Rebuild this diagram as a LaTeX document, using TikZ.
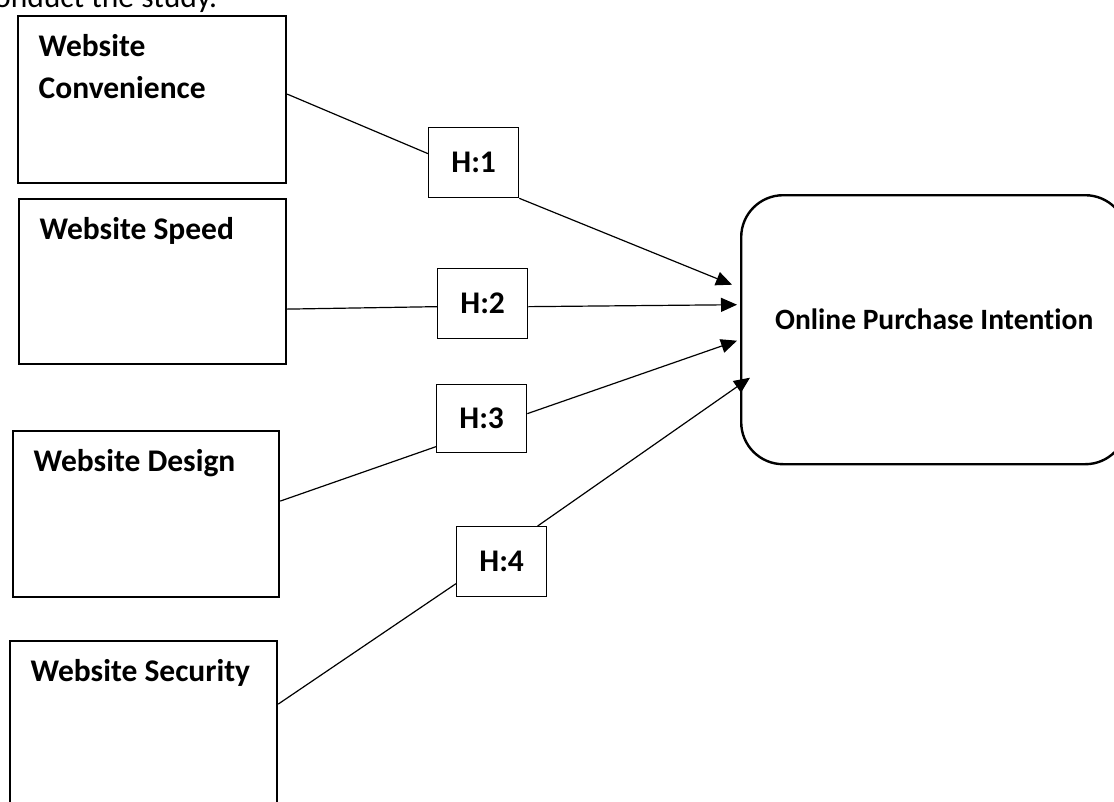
\documentclass[tikz,border=0pt]{standalone}
\usepackage{fontspec}
\setmainfont{Carlito}[Ligatures=NoCommon]
\usetikzlibrary{arrows.meta}

\begin{document}
\begin{tikzpicture}[
        x=1pt, y=-1pt,                % one unit = one pixel of the sketch
        every node/.style={inner sep=0pt},
        factor/.style={
            draw,
            line width=2.2pt,
            minimum width=267pt,
            minimum height=166pt,
            anchor=north west
        },
        txt/.style={
            anchor=north west,
            xshift=21.5pt, yshift=-19.5pt,
            align=left,
            font=\fontsize{31.5}{42}\selectfont\bfseries
        },
        hyp/.style={
            draw,
            line width=1.3pt,
            minimum width=90pt,
            minimum height=70pt,
            anchor=north west,
            font=\fontsize{31.5}{38}\selectfont\bfseries
        },
        target/.style={
            draw,
            line width=2.4pt,
            rounded corners=42pt,
            minimum width=386pt,
            minimum height=269pt,
            text height=20pt, text depth=20pt,
            anchor=north west,
            font=\fontsize{29.5}{36}\selectfont\bfseries
        },
        line/.style={line width=1.2pt},
        arrow/.style={line, -{Triangle[length=16pt,width=14pt]}}
    ]
    \path[use as bounding box, clip] (0,0) rectangle (1114,801);

    % text cut off above the figure
    \node[anchor=base west, font=\fontsize{31.5}{38}\selectfont] (top) at (-6,7.5) {onduct the study.};

    % factors
    \node[factor, minimum width=268pt, minimum height=167pt,
          label={[txt]north west:Website\\Convenience}] (conv) at (17,15) {};
    \node[factor, minimum height=165pt,
          label={[txt]north west:Website Speed}] (speed) at (18,198) {};
    \node[factor, minimum width=266pt,
          label={[txt]north west:Website Design}] (design) at (12,430) {};
    \node[factor, minimum height=180pt,
          label={[txt]north west:Website Security}] (secur) at (9,640) {};

    % hypotheses
    \node[hyp] (h1) at (428,127) {H:1};
    \node[hyp] (h2) at (437,268) {H:2};
    \node[hyp, minimum height=68pt] (h3) at (436,384) {H:3};
    \node[hyp] (h4) at (456,526) {H:4};

    % outcome
    \node[target] (opi) at (740,194) {Online Purchase Intention};

    % edges
    \draw[line] ([yshift=5.5pt]conv.east) -- ([yshift=9pt]h1.west);
    \draw[arrow] (h1.south east) -- ([shift={(-8pt,45pt)}]opi.west);
    \draw[line] ([yshift=-27.5pt]speed.east) -- ([yshift=-3pt]h2.west);
    \draw[arrow] ([yshift=-3pt]h2.east) -- ([shift={(-3pt,25pt)}]opi.west);
    \draw[line] ([yshift=13pt]design.east) -- ([yshift=-28pt]h3.west);
    \draw[arrow] ([yshift=5pt]h3.east) -- ([shift={(-3pt,-11pt)}]opi.west);
    \draw[line] ([yshift=27pt]secur.east) -- ([yshift=-22pt]h4.west);
    \draw[arrow] ([xshift=36pt]h4.north) -- ([shift={(10pt,-48pt)}]opi.west);
\end{tikzpicture}
\end{document}
